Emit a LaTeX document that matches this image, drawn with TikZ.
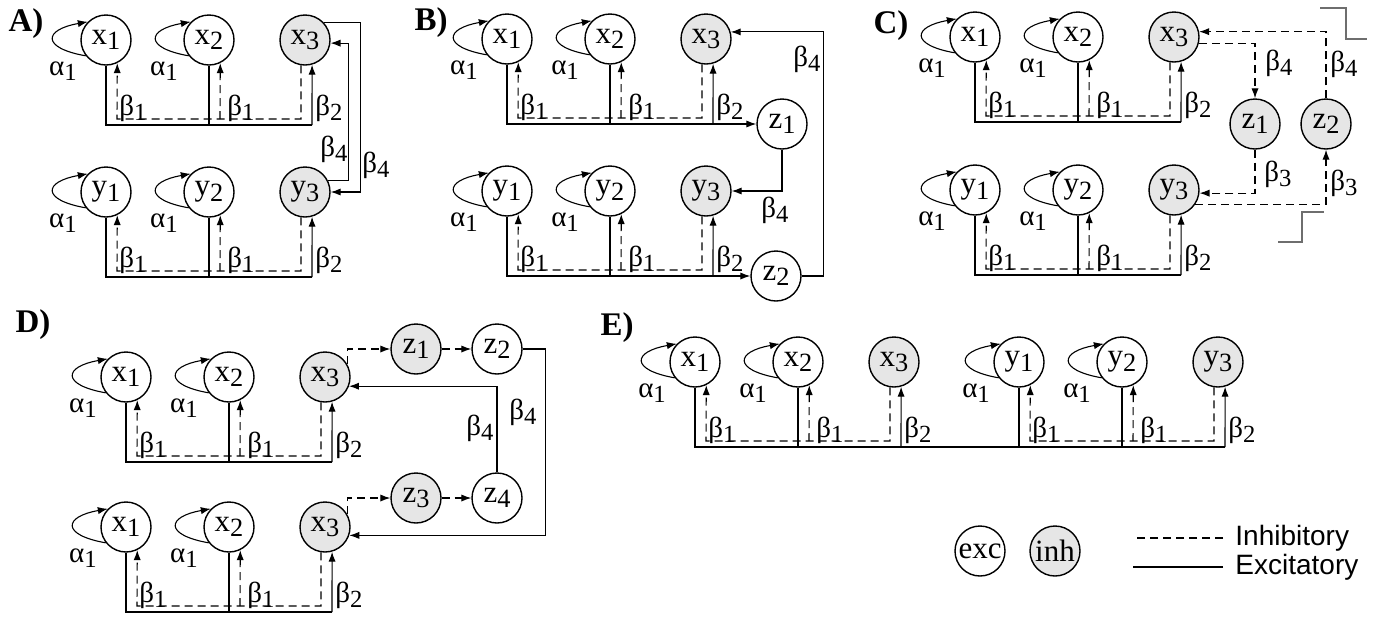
\documentclass[tikz,border=0pt]{standalone}
\usepackage{fontspec}
\setmainfont{Liberation Serif}
\newfontfamily\legendfont{Liberation Sans}
\usepackage{graphicx}
\usepackage{tikz}
\usetikzlibrary{arrows.meta,calc}
\definecolor{inhgray}{RGB}{230,230,230}
\definecolor{stepgray}{RGB}{110,110,110}
\newcommand{\lowix}[1]{\raisebox{-0.4ex}{\scalebox{0.85}{#1}}}
\tikzstyle{wire} = [line width=0.55pt]
\tikzstyle{inhib} = [wire, dash pattern=on 4pt off 2.5pt]
\tikzstyle{headed} = [-{Latex[length=5pt,width=3.6pt]}]
\tikzstyle{exc} = [circle, draw, line width=0.7pt, fill=white, minimum size=25pt, inner sep=0pt, font=\fontsize{15.5}{15.5}\selectfont]
\tikzstyle{inh} = [exc, fill=inhgray]
\tikzstyle{lbl} = [inner sep=0pt, font=\fontsize{14.5}{14.5}\selectfont]
\tikzstyle{paneltag} = [inner sep=0pt, font=\fontsize{16.5}{16.5}\selectfont\bfseries]
\tikzstyle{legtext} = [anchor=west, inner sep=0pt, font=\legendfont\fontsize{14}{14}\selectfont]

% one row of three cells with its two buses
\newcommand{\netrow}[4]{%
  \node[exc] (#11) at (#2,-#3) {#4\lowix{1}};
  \node[exc] (#12) at (#2+103,-#3) {#4\lowix{2}};
  \node[inh] (#13) at (#2+199,-#3) {#4\lowix{3}};
  \coordinate (#1s) at (#2,-#3-85);
  \coordinate (#1j) at (#2+206,-#3-85);
  % self loops
  \draw[wire,headed] (#11.218) to[out=170,in=190,looseness=3.4] (#11.135);
  \draw[wire,headed] (#12.218) to[out=170,in=190,looseness=3.4] (#12.135);
  % excitatory bus
  \draw[wire] (#11.south) -- (#1s) -- (#1j);
  \draw[wire,headed] (#1j) -- (#13.-74);
  \draw[wire] (#12.south) -- (#12.south |- #1s);
  % inhibitory bus
  \draw[inhib,headed] (#13.-99) |- (#2+11,-#3-79) -- (#11.-64);
  \draw[inhib,headed] (#2+114,-#3-79) -- (#12.-64);
  % weights
  \node[lbl] (#1a1) at (#2-43,-#3-31) {α\lowix{1}};
  \node[lbl] (#1a2) at (#2+58,-#3-31) {α\lowix{1}};
  \node[lbl] (#1b1) at (#2+27,-#3-68) {β\lowix{1}};
  \node[lbl] (#1b2) at (#2+135,-#3-68) {β\lowix{1}};
  \node[lbl] (#1b3) at (#2+223,-#3-68) {β\lowix{2}};
}

\begin{document}
\begin{tikzpicture}[x=0.5pt, y=0.5pt]
\useasboundingbox (0,0) rectangle (1379,-617);

% Panel A
\node[paneltag] (tagA) at (26,-24) {A)};
\netrow{Ax}{106}{40}{x}
\netrow{Ay}{106}{192}{y}
\draw[wire,headed] (Ax3.43) -- ++(37,0) |- (Ay3.east);
\draw[wire,headed] (Ay3.26) -- ++(20,0) |- (Ax3.-7);
\node[lbl] (Ab4a) at (334,-149) {β\lowix{4}};
\node[lbl] (Ab4b) at (376,-165) {β\lowix{4}};

% Panel B
\node[paneltag] (tagB) at (431,-23) {B)};
\netrow{Bx}{507}{39}{x}
\netrow{By}{507}{191}{y}
\node[exc] (Bz1) at (782,-124) {z\lowix{1}};
\node[exc] (Bz2) at (776,-276) {z\lowix{2}};
\draw[wire,headed] (Bxj) -- (Bz1);
\draw[wire,headed] (Byj) -- (Bz2);
\draw[wire,headed] (Bz1.south) |- (By3.east);
\draw[wire,headed] (Bz2.east) -- ++(22,0) |- (Bx3.16);
\node[lbl] (Bb4a) at (807,-59) {β\lowix{4}};
\node[lbl] (Bb4b) at (775,-210) {β\lowix{4}};

% Panel C
\node[paneltag] (tagC) at (891,-26) {C)};
\netrow{Cx}{975}{37}{x}
\netrow{Cy}{975}{190}{y}
\node[inh] (Cz1) at (1255,-124) {z\lowix{1}};
\node[inh] (Cz2) at (1326,-124) {z\lowix{2}};
\draw[inhib,headed] (Cx3.-14) -| (Cz1.north);
\draw[inhib,headed] (Cz2.north) |- (Cx3.12);
\draw[inhib,headed] (Cz1.south) |- (Cy3.-7);
\draw[inhib,headed] (Cy3.-34) -| (Cz2.south);
\node[lbl] (Cb4a) at (1279,-63) {β\lowix{4}};
\node[lbl] (Cb4b) at (1344,-64) {β\lowix{4}};
\node[lbl] (Cb3a) at (1278,-174) {β\lowix{3}};
\node[lbl] (Cb3b) at (1344,-183) {β\lowix{3}};
\draw[wire, stepgray] (1320,-8) -- (1346,-8) -- (1346,-39) -- (1367,-39);
\draw[wire, stepgray] (1278,-242) -- (1302,-242) -- (1302,-212) -- (1324,-212);

% Panel D
\node[paneltag] (tagD) at (33,-325) {D)};
\netrow{Dx}{126}{377}{x}
\netrow{Dw}{126}{527}{x}
\node[inh] (Dz1) at (416,-349) {z\lowix{1}};
\node[exc] (Dz2) at (497,-349) {z\lowix{2}};
\node[inh] (Dz3) at (416,-498) {z\lowix{3}};
\node[exc] (Dz4) at (497,-498) {z\lowix{4}};
\draw[inhib,headed] (Dx3.30) |- (Dz1.west);
\draw[inhib,headed] (Dz1) -- (Dz2);
\draw[inhib,headed] (Dw3.30) |- (Dz3.west);
\draw[inhib,headed] (Dz3) -- (Dz4);
\draw[wire,headed] (Dz2.east) -- ++(23,0) |- (Dw3.-19);
\draw[wire,headed] (Dz4.north) |- (Dx3.-21);
\node[lbl] (Db4a) at (480,-428) {β\lowix{4}};
\node[lbl] (Db4b) at (523,-412) {β\lowix{4}};

% Panel E
\node[paneltag] (tagE) at (617,-328) {E)};
\netrow{Ex}{695}{362}{x}
\netrow{Ey}{1019}{362}{y}
\draw[wire] (Exj) -- (Eys);

% Legend
\node[exc] (legexc) at (980,-551) {exc};
\node[inh] (leginh) at (1055,-551) {inh};
\node[legtext] (leginhtxt) at (1235,-538) {Inhibitory};
\node[legtext] (legexctxt) at (1235,-567) {Excitatory};
\draw[inhib] ([xshift=-6pt]leginhtxt.west) -- ++(-90,0);
\draw[wire] ([xshift=-6pt]legexctxt.west) -- ++(-90,0);
\end{tikzpicture}
\end{document}
